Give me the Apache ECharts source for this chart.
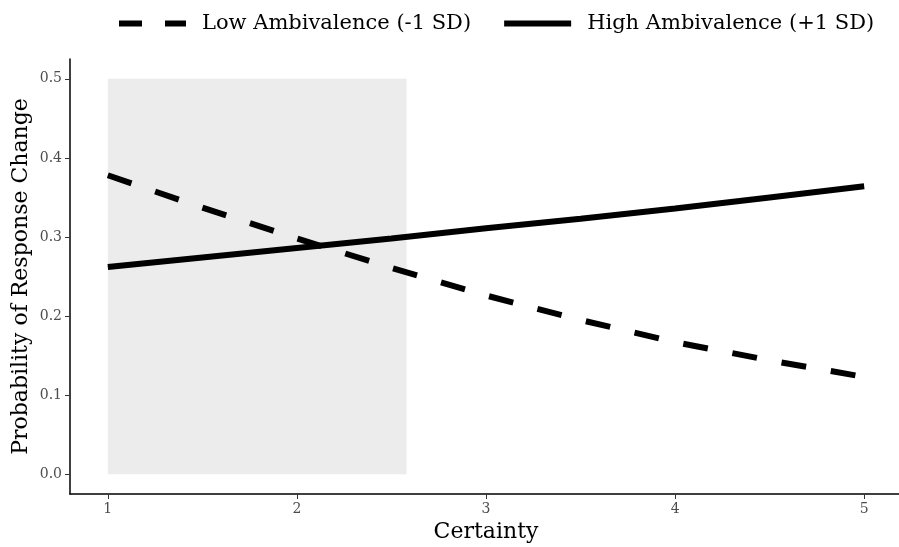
<!DOCTYPE html>
<html><head><meta charset="utf-8">
<script src="https://cdn.jsdelivr.net/npm/echarts@6/dist/echarts.min.js"></script>
<style>html,body{margin:0;padding:0;background:#fff}#c{width:899px;height:547px}</style>
</head><body><div id="c"></div>
<script>
const certainty = [1, 1.5, 2, 2.5, 3, 3.5, 4, 4.5, 5];
const lowAmbivalence = [0.378, 0.337, 0.298, 0.261, 0.226, 0.195, 0.167, 0.144, 0.123];
const highAmbivalence = [0.262, 0.274, 0.286, 0.298, 0.311, 0.323, 0.336, 0.350, 0.364];
const shadeX = [1, 2.58];
const shadeY = [0, 0.5];
const xTicks = [1, 2, 3, 4, 5];
const yTicks = [0, 0.1, 0.2, 0.3, 0.4, 0.5];
const seriesNames = ['Low Ambivalence (-1 SD)', 'High Ambivalence (+1 SD)'];

const FONT = '"DejaVu Serif", "Liberation Serif", serif';
const chart = echarts.init(document.getElementById('c'), null, {renderer: 'canvas'});
const pairs = arr => certainty.map((x, i) => [x, arr[i]]);
chart.setOption({
  animation: false,
  backgroundColor: '#fff',
  textStyle: {fontFamily: FONT},
  grid: {left: 70, top: 59, width: 832, height: 435, outerBoundsMode: 'none', containLabel: false},
  legend: {
    top: 8, left: 111,
    itemWidth: 67, itemHeight: 14, itemGap: 30,
    textStyle: {fontFamily: FONT, fontSize: 21, color: '#000', padding: [0, 0, 0, 11]},
    data: [
      {name: seriesNames[0], itemStyle: {opacity: 0}, lineStyle: {width: 6, type: [23, 23], color: '#000', cap: 'butt'}},
      {name: seriesNames[1], itemStyle: {opacity: 0}, lineStyle: {width: 6, type: 'solid', color: '#000'}}
    ]
  },
  xAxis: {
    type: 'value', min: 0.8, max: 5.2,
    name: 'Certainty', nameLocation: 'middle', nameGap: 26,
    nameTextStyle: {fontFamily: FONT, fontSize: 22, color: '#000'},
    axisLine: {onZero: false, lineStyle: {color: '#000', width: 1.5}},
    axisTick: {customValues: xTicks, length: 5, lineStyle: {color: '#333'}},
    axisLabel: {customValues: xTicks, fontFamily: FONT, fontSize: 14, color: '#4d4d4d', margin: 8},
    splitLine: {show: false}
  },
  yAxis: {
    type: 'value', min: -0.025, max: 0.525,
    name: 'Probability of Response Change', nameLocation: 'middle', nameGap: 38,
    nameMoveOverlap: false,
    nameTextStyle: {fontFamily: FONT, fontSize: 22, color: '#000'},
    axisLine: {show: true, onZero: false, lineStyle: {color: '#000', width: 1.5}},
    axisTick: {show: true, customValues: yTicks, length: 5, lineStyle: {color: '#333'}},
    axisLabel: {customValues: yTicks, fontFamily: FONT, fontSize: 14, color: '#4d4d4d', margin: 8,
      formatter: v => v.toFixed(1)},
    splitLine: {show: false}
  },
  series: [
    {
      name: seriesNames[0], type: 'line', data: pairs(lowAmbivalence), symbol: 'none', smooth: false,
      lineStyle: {width: 6, type: [25, 25], color: '#000', cap: 'butt'}, itemStyle: {color: '#000'},
      markArea: {silent: true, itemStyle: {color: '#ececec'},
        data: [[{coord: [shadeX[0], shadeY[0]]}, {coord: [shadeX[1], shadeY[1]]}]]},
      z: 3
    },
    {
      name: seriesNames[1], type: 'line', data: pairs(highAmbivalence), symbol: 'none', smooth: false,
      lineStyle: {width: 6, type: 'solid', color: '#000', cap: 'butt'}, itemStyle: {color: '#000'},
      z: 2
    }
  ]
});
</script></body></html>
